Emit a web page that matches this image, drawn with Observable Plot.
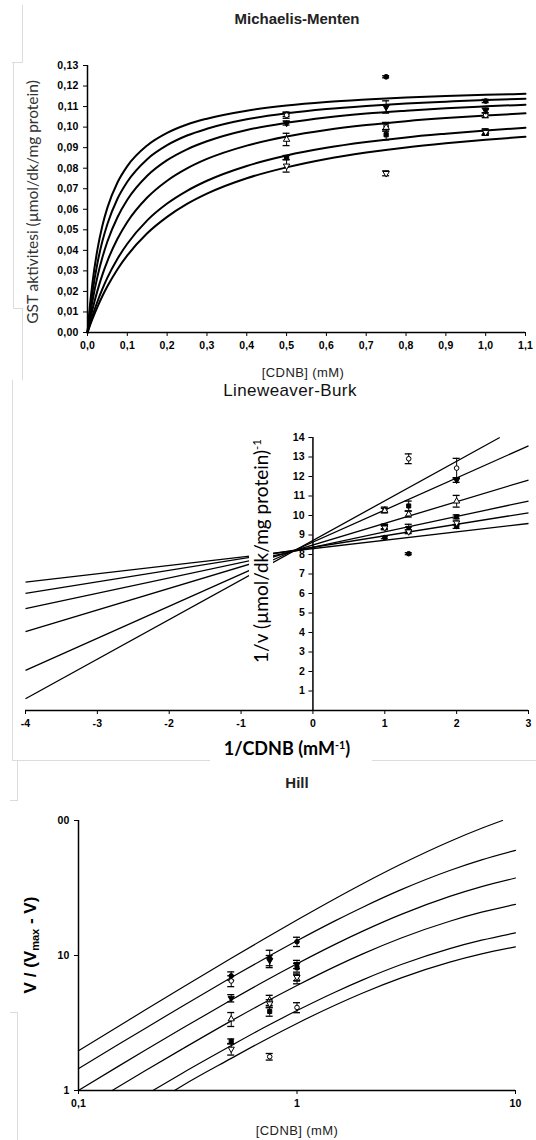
<!DOCTYPE html>
<html><head><meta charset="utf-8">
<script src="https://cdn.jsdelivr.net/npm/d3@7"></script>
<script src="https://cdn.jsdelivr.net/npm/@observablehq/plot@0.6"></script>
<style>
body{margin:0;background:#fff;}
#page{position:relative;width:536px;height:1140px;overflow:hidden;background:#fff;font-family:"Liberation Sans",Arial,sans-serif;color:#000;}
.t{position:absolute;white-space:nowrap;transform:translate(-50%,-50%);line-height:1;}
.r{transform:translate(-50%,-50%) rotate(-90deg);}
.g{position:absolute;background:#dcdcdc;}
sup{font-size:0.6em;vertical-align:0.6em;line-height:0;}
sub{font-size:0.65em;vertical-align:-0.3em;line-height:0;}
</style></head>
<body><div id="page"></div>
<script>
// ---------------- Michaelis-Menten ----------------
const mmS = [0, 0.00625, 0.0125, 0.025, 0.0375, 0.05, 0.075, 0.1, 0.15, 0.2, 0.25, 0.3, 0.4, 0.5, 0.6, 0.7, 0.8, 0.9, 1.0, 1.1];
const mmCurve1 = [0, 0.0135, 0.0243, 0.0405, 0.0521, 0.0608, 0.0729, 0.0810, 0.0911, 0.0972, 0.1013, 0.1041, 0.1080, 0.1105, 0.1122, 0.1134, 0.1144, 0.1151, 0.1157, 0.1162];
const mmCurve2 = [0, 0.0107, 0.0197, 0.0338, 0.0445, 0.0528, 0.0650, 0.0734, 0.0844, 0.0912, 0.0959, 0.0992, 0.1038, 0.1067, 0.1088, 0.1103, 0.1115, 0.1124, 0.1132, 0.1138];
const mmCurve3 = [0, 0.0082, 0.0153, 0.0272, 0.0366, 0.0443, 0.0560, 0.0646, 0.0763, 0.0839, 0.0892, 0.0931, 0.0986, 0.1021, 0.1047, 0.1066, 0.1080, 0.1092, 0.1101, 0.1109];
const mmCurve4 = [0, 0.0059, 0.0112, 0.0204, 0.0282, 0.0348, 0.0455, 0.0538, 0.0657, 0.0739, 0.0799, 0.0845, 0.0910, 0.0954, 0.0986, 0.1010, 0.1029, 0.1044, 0.1056, 0.1067];
const mmCurve5 = [0, 0.0042, 0.0081, 0.0151, 0.0212, 0.0267, 0.0358, 0.0432, 0.0546, 0.0628, 0.0690, 0.0739, 0.0811, 0.0862, 0.0899, 0.0927, 0.0950, 0.0968, 0.0984, 0.0997];
const mmCurve6 = [0, 0.0034, 0.0066, 0.0125, 0.0178, 0.0225, 0.0307, 0.0375, 0.0483, 0.0563, 0.0626, 0.0676, 0.0751, 0.0804, 0.0845, 0.0876, 0.0901, 0.0921, 0.0938, 0.0953];

const mmPointS = [0.5, 0.75, 1.0];
const mmPts1 = [0.1062, 0.1245, 0.1127]; const mmErr1 = [0.0010, 0.0005, 0.0008];
const mmPts2 = [0.1058, 0.1005, 0.1058]; const mmErr2 = [0.0015, 0.0018, 0.0012];
const mmPts3 = [0.1020, 0.1098, 0.1081]; const mmErr3 = [0.0010, 0.0030, 0.0012];
const mmPts4 = [0.0940, 0.0998, 0.0977]; const mmErr4 = [0.0030, 0.0018, 0.0015];
const mmPts5 = [0.0852, 0.0963, 0.0970]; const mmErr5 = [0.0010, 0.0025, 0.0010];
const mmPts6 = [0.0811, 0.0775, 0.0975]; const mmErr6 = [0.0030, 0.0012, 0.0012];

const mmXTicks = [0, 0.1, 0.2, 0.3, 0.4, 0.5, 0.6, 0.7, 0.8, 0.9, 1.0, 1.1];
const mmXTickLabels = ["0,0","0,1","0,2","0,3","0,4","0,5","0,6","0,7","0,8","0,9","1,0","1,1"];
const mmYTicks = [0, 0.01, 0.02, 0.03, 0.04, 0.05, 0.06, 0.07, 0.08, 0.09, 0.10, 0.11, 0.12, 0.13];
const mmYTickLabels = ["0,00","0,01","0,02","0,03","0,04","0,05","0,06","0,07","0,08","0,09","0,10","0,11","0,12","0,13"];

// ---------------- Lineweaver-Burk ----------------
const lbLeftX = [-4, -4, -4, -4, -4, -4];
const lbLeftY = [0.6, 2.06, 4.04, 5.22, 6.01, 6.58];
const lbRightX = [2.6, 3, 3, 3, 3, 3];
const lbRightY = [14.0, 13.57, 11.82, 10.74, 10.14, 9.59];

const lbPointX = [2, 1.333, 1];
const lbPts1 = [9.44, 8.04, 8.87];   const lbErr1 = [0.10, 0.05, 0.06];
const lbPts2 = [12.43, 12.91, 10.31]; const lbErr2 = [0.50, 0.25, 0.12];
const lbPts3 = [11.82, 9.35, 9.44];  const lbErr3 = [0.12, 0.20, 0.12];
const lbPts4 = [10.73, 10.07, 10.25]; const lbErr4 = [0.30, 0.15, 0.12];
const lbPts5 = [9.93, 10.49, 9.40];  const lbErr5 = [0.10, 0.25, 0.10];
const lbPts6 = [9.62, 9.17, 9.37];   const lbErr6 = [0.10, 0.10, 0.10];

const lbXTicks = [-4, -3, -2, -1, 0, 1, 2, 3];
const lbXTickLabels = ["-4","-3","-2","-1","0","1","2","3"];
const lbYTicks = [1,2,3,4,5,6,7,8,9,10,11,12,13,14];
const lbYTickLabels = ["1","2","3","4","5","6","7","8","9","10","11","12","13","14"];

// ---------------- Hill ----------------
const hillX1 = [0.1, 0.15, 0.2, 0.3, 0.5, 0.7, 1, 1.5, 2, 3, 5, 7, 8.72];
const hillY1 = [1.97, 2.94, 3.91, 5.82, 9.54, 13.14, 18.33, 26.47, 34.02, 47.61, 69.96, 87.59, 100];
const hillX2 = [0.1, 0.15, 0.2, 0.3, 0.5, 0.7, 1, 1.5, 2, 3, 5, 7, 10];
const hillY2 = [1.45, 2.16, 2.86, 4.23, 6.86, 9.35, 12.85, 18.12, 22.80, 30.74, 42.61, 51.07, 60.0];
const hillX3 = [0.1, 0.15, 0.2, 0.3, 0.5, 0.7, 1, 1.5, 2, 3, 5, 7, 10];
const hillY3 = [1.00, 1.49, 1.97, 2.90, 4.68, 6.36, 8.68, 12.14, 15.15, 20.16, 27.40, 32.38, 37.5];
const hillX4 = [0.1426, 0.2, 0.3, 0.5, 0.7, 1, 1.5, 2, 3, 5, 7, 10];
const hillY4 = [1.00, 1.39, 2.04, 3.28, 4.43, 6.00, 8.31, 10.28, 13.48, 17.95, 20.93, 23.9];
const hillX5 = [0.219, 0.3, 0.5, 0.7, 1, 1.5, 2, 3, 5, 7, 10];
const hillY5 = [1.00, 1.35, 2.15, 2.90, 3.91, 5.37, 6.60, 8.57, 11.25, 12.99, 14.7];
const hillX6 = [0.275, 0.3, 0.5, 0.7, 1, 1.5, 2, 3, 5, 7, 10];
const hillY6 = [1.00, 1.09, 1.73, 2.33, 3.14, 4.30, 5.28, 6.83, 8.93, 10.28, 11.6];

const hillPointS = [0.5, 0.75, 1.0];
const hillPts1 = [7.06, 9.53, 12.65]; const hillErr1 = [0.50, 1.40, 1.00];
const hillPts2 = [6.48, 1.78, 4.12];  const hillErr2 = [0.60, 0.10, 0.35];
const hillPts3 = [4.83, 9.20, 8.60];  const hillErr3 = [0.30, 0.80, 0.60];
const hillPts4 = [3.38, 4.67, 6.67];  const hillErr4 = [0.40, 0.40, 0.50];
const hillPts5 = [2.31, 3.85, 8.13];  const hillErr5 = [0.10, 0.30, 0.60];
const hillPts6 = [2.03, 4.40, 6.90];  const hillErr6 = [0.20, 0.30, 0.40];

const hillXTicks = [0.1, 1, 10];
const hillXTickLabels = ["0,1", "1", "10"];
const hillYTicks = [1, 10, 100];
const hillYTickLabels = ["1", "10", "00"];

// ---------------- helpers ----------------
const triDown = {draw(ctx, size) {
  const y = -Math.sqrt(size / (Math.sqrt(3) * 3));
  ctx.moveTo(0, -y * 2); ctx.lineTo(-Math.sqrt(3) * y, y); ctx.lineTo(Math.sqrt(3) * y, y); ctx.closePath();
}};
const seriesSymbol = ["circle", "circle", triDown, "triangle", "square", triDown];
const seriesFill = ["black", "white", "black", "white", "black", "white"];

function pointMarks(xs, vals, errs, k, r) {
  const rows = xs.map((x, i) => ({x, y: vals[i], lo: vals[i] - errs[i], hi: vals[i] + errs[i]}));
  return [
    Plot.ruleX(rows, {x: "x", y1: "lo", y2: "hi", stroke: "black", strokeWidth: 1}),
    Plot.ruleY(rows, {x1: "x", x2: "x", y: "hi", insetLeft: -3.5, insetRight: -3.5, stroke: "black", strokeWidth: 1.3}),
    Plot.ruleY(rows, {x1: "x", x2: "x", y: "lo", insetLeft: -3.5, insetRight: -3.5, stroke: "black", strokeWidth: 1.3}),
    Plot.dot(rows, {x: "x", y: "y", r, symbol: seriesSymbol[k], fill: seriesFill[k], stroke: "black", strokeWidth: 1})
  ];
}
const fmt = (ticks, labels) => d => labels[ticks.indexOf(d)];
const baseStyle = {fontFamily: "'Liberation Sans', Arial, sans-serif", fontSize: "10.5px", fontWeight: "bold", letterSpacing: "0.2px", overflow: "visible", background: "transparent", color: "black"};

const page = document.getElementById("page");
function place(svg, top) {
  svg.style.position = "absolute"; svg.style.left = "0px"; svg.style.top = top + "px";
  page.appendChild(svg);
}
function label(html, cx, cy, css, rotate) {
  const d = document.createElement("div");
  d.className = "t" + (rotate ? " r" : "");
  d.style.left = cx + "px"; d.style.top = cy + "px";
  d.style.cssText += css;
  d.innerHTML = html;
  page.appendChild(d);
  return d;
}
function gray(x, y, w, h) {
  const d = document.createElement("div");
  d.className = "g";
  Object.assign(d.style, {left: x + "px", top: y + "px", width: w + "px", height: h + "px"});
  page.appendChild(d);
}

// faint frame remnants
gray(22, 5, 1, 57); gray(12, 62, 11, 1); gray(13, 62, 1, 246); gray(13, 308, 10, 1); gray(22, 308, 1, 72);
gray(12, 380, 1, 380); gray(12, 760, 198, 1); gray(372, 760, 164, 1); gray(17, 760, 1, 40); gray(10, 800, 8, 1);
gray(17, 1012, 1, 128); gray(10, 1012, 7, 1);

// ---------------- MM plot ----------------
const mmCurves = [mmCurve1, mmCurve2, mmCurve3, mmCurve4, mmCurve5, mmCurve6];
const mmRows = mmCurves.flatMap((vals, k) => mmS.map((s, i) => ({s, v: vals[i], k})));
const mmPts = [mmPts1, mmPts2, mmPts3, mmPts4, mmPts5, mmPts6];
const mmErr = [mmErr1, mmErr2, mmErr3, mmErr4, mmErr5, mmErr6];

const mmPlot = Plot.plot({
  width: 536, height: 315, marginTop: 25, marginLeft: 87, marginRight: 11, marginBottom: 23,
  style: baseStyle,
  x: {domain: [0, 1.1], ticks: mmXTicks, tickFormat: fmt(mmXTicks, mmXTickLabels), tickSize: 4, tickPadding: 5, label: null},
  y: {domain: [0, 0.13], ticks: mmYTicks, tickFormat: fmt(mmYTicks, mmYTickLabels), tickSize: 4, tickPadding: 5, label: null},
  marks: [
    Plot.ruleX([0], {strokeWidth: 1.5}),
    Plot.ruleY([0], {strokeWidth: 1.5}),
    Plot.line(mmRows, {x: "s", y: "v", z: "k", curve: "monotone-x", stroke: "black", strokeWidth: 2}),
    ...mmPts.flatMap((p, k) => pointMarks(mmPointS, p, mmErr[k], k, 2.4))
  ]
});
place(mmPlot, 40);

label("Michaelis-Menten", 297, 18, "font-size:15px;font-weight:bold;color:#222;");
label("[CDNB] (mM)", 303, 372, "font-size:13px;letter-spacing:0.4px;color:#222;");
label("GST aktivitesi (µmol/dk/mg protein)", 33, 202, "font-family:Lato,'Open Sans',sans-serif;font-size:15.5px;color:#333;", true);

// ---------------- LB plot ----------------
const lbLines = lbLeftX.map((x, i) => ({x1: x, y1: lbLeftY[i], x2: lbRightX[i], y2: lbRightY[i]}));
const lbPts = [lbPts1, lbPts2, lbPts3, lbPts4, lbPts5, lbPts6];
const lbErr = [lbErr1, lbErr2, lbErr3, lbErr4, lbErr5, lbErr6];

const lbPlot = Plot.plot({
  width: 536, height: 335, marginTop: 37, marginLeft: 25, marginRight: 8, marginBottom: 25,
  style: baseStyle,
  x: {domain: [-4, 3], ticks: lbXTicks, tickFormat: fmt(lbXTicks, lbXTickLabels), tickSize: 4, tickPadding: 5, label: null},
  y: {domain: [0, 14], axis: null},
  marks: [
    Plot.ruleY([0], {strokeWidth: 1.5}),
    Plot.ruleX([0], {strokeWidth: 1.5}),
    Plot.ruleY(lbYTicks, {y: d => d, x1: () => 0, x2: () => 0, insetLeft: -4, stroke: "black"}),
    Plot.text(lbYTicks, {y: d => d, x: () => 0, text: d => lbYTickLabels[lbYTicks.indexOf(d)], textAnchor: "end", dx: -8, fill: "black"}),
    Plot.link(lbLines, {x1: "x1", y1: "y1", x2: "x2", y2: "y2", stroke: "black", strokeWidth: 1.3}),
    ...lbPts.flatMap((p, k) => pointMarks(lbPointX, p, lbErr[k], k, 2.3))
  ]
});
place(lbPlot, 400);

label("Lineweaver-Burk", 290, 390, "font-size:17px;letter-spacing:0.4px;color:#111;");
label("1/CDNB (mM<sup>-1</sup>)", 287, 748, "font-family:Lato,'Open Sans',sans-serif;font-size:18px;font-weight:bold;");
label("1/v (µmol/dk/mg protein)<sup>-1</sup>", 261, 551, "font-family:Lato,'Open Sans',sans-serif;font-size:19px;background:#fff;padding:2px 2px;line-height:1.05;", true);

// ---------------- Hill plot ----------------
const hillXs = [hillX1, hillX2, hillX3, hillX4, hillX5, hillX6];
const hillYs = [hillY1, hillY2, hillY3, hillY4, hillY5, hillY6];
const hillRows = hillXs.flatMap((xs, k) => xs.map((s, i) => ({s, v: hillYs[k][i], k})));
const hillPts = [hillPts1, hillPts2, hillPts3, hillPts4, hillPts5, hillPts6];
const hillErr = [hillErr1, hillErr2, hillErr3, hillErr4, hillErr5, hillErr6];

const hillPlot = Plot.plot({
  width: 536, height: 312, marginTop: 20, marginLeft: 78, marginRight: 21, marginBottom: 22,
  style: baseStyle,
  x: {type: "log", domain: [0.1, 10], ticks: hillXTicks, tickFormat: fmt(hillXTicks, hillXTickLabels), tickSize: 4, tickPadding: 5, label: null},
  y: {type: "log", domain: [1, 100], ticks: hillYTicks, tickFormat: fmt(hillYTicks, hillYTickLabels), tickSize: 4, tickPadding: 5, label: null},
  marks: [
    Plot.ruleX([0.1], {strokeWidth: 1.5}),
    Plot.ruleY([1], {strokeWidth: 1.5}),
    Plot.line(hillRows, {x: "s", y: "v", z: "k", curve: "monotone-x", stroke: "black", strokeWidth: 1.2}),
    ...hillPts.flatMap((p, k) => pointMarks(hillPointS, p, hillErr[k], k, 2.3))
  ]
});
place(hillPlot, 800);

label("Hill", 297, 782, "font-size:15px;font-weight:bold;color:#222;");
label("[CDNB] (mM)", 297, 1130, "font-size:13px;letter-spacing:0.4px;color:#222;");
label("V / (V<sub>max</sub> - V)", 30, 945, "font-size:17px;font-weight:bold;", true);
</script>
</body></html>
